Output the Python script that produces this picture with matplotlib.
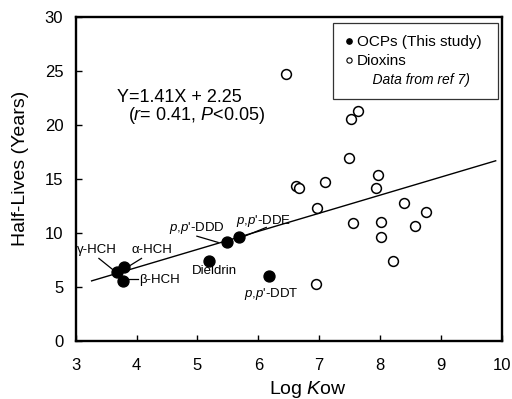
import matplotlib
matplotlib.use("Agg")
import matplotlib.pyplot as plt
from matplotlib.lines import Line2D

plt.rcParams["font.family"] = ["Liberation Sans", "DejaVu Sans"]
plt.rcParams["mathtext.fontset"] = "custom"
plt.rcParams["mathtext.rm"] = "Liberation Sans"
plt.rcParams["mathtext.it"] = "Liberation Sans:italic"

# OCPs (this study)
ocp_names = ["γ-HCH", "α-HCH", "β-HCH", "$p$,$p$'-DDD", "$p$,$p$'-DDE", "Dieldrin", "$p$,$p$'-DDT"]
ocp_logkow = [3.67, 3.80, 3.78, 5.48, 5.69, 5.19, 6.17]
ocp_half = [6.4, 6.9, 5.6, 9.2, 9.6, 7.4, 6.0]

# dioxins (ref 7)
dx_logkow = [6.45, 7.63, 7.53, 7.49, 6.62, 6.67, 7.10, 7.96, 7.94, 8.39,
             8.75, 7.56, 8.01, 8.58, 8.01, 8.22, 6.95, 6.97]
dx_half = [24.7, 21.3, 20.6, 17.0, 14.35, 14.2, 14.7, 15.4, 14.2, 12.8,
           12.0, 10.9, 11.05, 10.65, 9.6, 7.45, 5.3, 12.35]

# regression line as drawn
fit_x = [3.26, 9.90]
fit_y = [5.58, 16.7]

# label anchors (left, baseline) and leader lines
label_xy = [(3.02, 8.18), (3.91, 8.18), (4.04, 5.40), (4.54, 10.2),
            (5.64, 10.83), (4.90, 6.2), (5.76, 4.05)]
leaders = {
    "γ-HCH": ([3.38, 3.62], [7.66, 6.57]),
    "α-HCH": ([4.08, 3.84], [7.66, 6.82]),
    "β-HCH": ([3.86, 4.03], [5.71, 5.71]),
    "$p$,$p$'-DDD": ([4.99, 5.34], [9.72, 9.14]),
    "$p$,$p$'-DDE": ([6.13, 5.75], [10.53, 9.66]),
}

fig = plt.figure(figsize=(5.12, 3.99), dpi=100)
ax = fig.add_axes([0.148, 0.145, 0.832, 0.812])

ax.plot(fit_x, fit_y, color="black", linewidth=1.0, zorder=1)
for name, (lx, ly) in leaders.items():
    ax.plot(lx, ly, color="black", linewidth=0.9, zorder=1)

ax.scatter(dx_logkow, dx_half, s=50, facecolors="white", edgecolors="black",
           linewidths=1.1, zorder=3)
ax.scatter(ocp_logkow, ocp_half, s=62, color="black", zorder=4)

for name, (tx, ty) in zip(ocp_names, label_xy):
    ax.text(tx, ty, name, fontsize=9.5, ha="left", va="baseline")

ax.text(3.67, 22.16, "Y=1.41X + 2.25", fontsize=13, va="baseline")
ax.text(3.85, 20.5, "($r$= 0.41, $P$<0.05)", fontsize=13, va="baseline")

ax.set_xlim(3, 10)
ax.set_ylim(0, 30)
ax.set_xticks(range(3, 11))
ax.set_yticks(range(0, 31, 5))
ax.tick_params(axis="x", direction="in", length=4, width=1, labelsize=12, pad=12)
ax.tick_params(axis="y", direction="in", length=4, width=1, labelsize=12, pad=9)
for spine in ax.spines.values():
    spine.set_linewidth(1.7)

ax.set_xlabel("Log $K$ow", fontsize=14)
ax.set_ylabel("Half-Lives (Years)", fontsize=14)
ax.xaxis.set_label_coords(0.545, -0.116)
ax.yaxis.set_label_coords(-0.11, 0.532)

handles = [
    Line2D([], [], linestyle="none", marker="o", markersize=3.8, color="black"),
    Line2D([], [], linestyle="none", marker="o", markersize=3.8,
           markerfacecolor="white", markeredgecolor="black", markeredgewidth=0.8),
    Line2D([], [], linestyle="none"),
]
labels = ["OCPs (This study) ", "Dioxins", "    Data from ref 7)"]
leg = ax.legend(handles, labels, loc="upper right", bbox_to_anchor=(0.973, 0.942),
                bbox_transform=fig.transFigure, fontsize=11, frameon=True,
                fancybox=False, framealpha=1, edgecolor="#333333", borderaxespad=0,
                handlelength=0.45, handletextpad=0.32, labelspacing=0.3,
                borderpad=0.8)
leg.get_frame().set_linewidth(0.9)
leg.get_texts()[2].set_fontstyle("italic")
leg.get_texts()[2].set_fontsize(10)

fig.savefig("out.png", dpi=100)
